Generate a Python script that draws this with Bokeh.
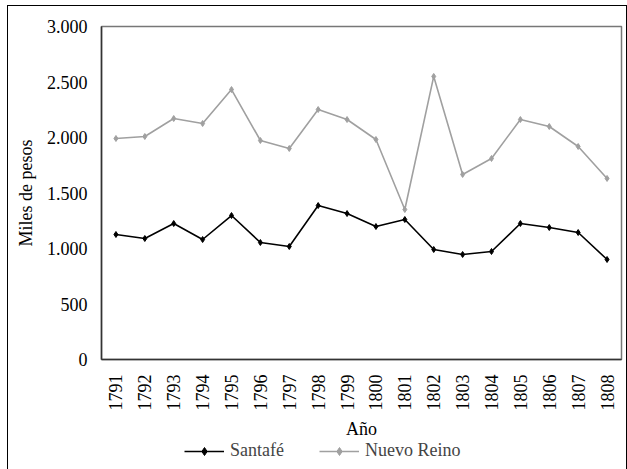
from bokeh.plotting import figure
from bokeh.layouts import column
from bokeh.models import FactorRange, Range1d, CustomJSTickFormatter, Legend, LegendItem
from bokeh.embed import file_html
from bokeh.resources import INLINE
from math import pi

years = [str(y) for y in range(1791, 1809)]
santafe = [1126, 1090, 1225, 1081, 1297, 1054, 1018, 1387, 1315, 1198, 1261, 991, 946, 973, 1225, 1189, 1144, 901]
nuevo_reino = [1991, 2009, 2171, 2126, 2432, 1973, 1901, 2252, 2162, 1982, 1351, 2550, 1667, 1811, 2162, 2099, 1919, 1631]
y_ticks = [0, 500, 1000, 1500, 2000, 2500, 3000]

FONT = "Liberation Serif"
GRAY = "#a0a0a0"

p = figure(width=618, height=435, x_range=FactorRange(*years), y_range=Range1d(0, 3000),
           output_backend="svg", toolbar_location=None,
           min_border_left=93, min_border_right=5, min_border_top=20, min_border_bottom=82)
p.xgrid.visible = False
p.ygrid.visible = False
p.outline_line_color = "#777777"
p.outline_line_width = 1.5

p.line(years, santafe, line_color="black", line_width=1.6)
p.scatter(years, santafe, marker="diamond", size=6, color="black")
p.line(years, nuevo_reino, line_color=GRAY, line_width=1.6)
p.scatter(years, nuevo_reino, marker="diamond", size=6, color=GRAY)

p.yaxis.ticker = y_ticks
p.yaxis.formatter = CustomJSTickFormatter(code="return Math.round(tick).toString().replace(/\\B(?=(\\d{3})+(?!\\d))/g, '.');")
for ax in (p.xaxis[0], p.yaxis[0]):
    ax.major_tick_line_color = None
    ax.minor_tick_line_color = None
    ax.axis_line_color = "#333333"
    ax.axis_line_width = 1.5
    ax.major_label_text_font = FONT
    ax.major_label_text_font_size = "18px"
    ax.major_label_text_color = "black"
    ax.axis_label_text_font = FONT
    ax.axis_label_text_font_size = "18px"
    ax.axis_label_text_font_style = "normal"
    ax.axis_label_text_color = "black"

p.xaxis.major_label_orientation = pi / 2
p.xaxis.axis_label = "Año"
p.xaxis.axis_label_standoff = 5
p.xaxis.major_label_standoff = 9
p.yaxis.axis_label = "Miles de pesos"
p.yaxis.axis_label_standoff = 8
p.yaxis.major_label_standoff = 8
p.x_range.range_padding = 0
p.x_range.group_padding = 0

# legend strip below the chart (series drawn off-screen, only the legend shows)
lg = figure(width=618, height=28, x_range=FactorRange(*years), y_range=Range1d(-2, -1),
            output_backend="svg", toolbar_location=None,
            x_axis_type=None, y_axis_type=None,
            min_border_left=0, min_border_right=0, min_border_top=0, min_border_bottom=0)
lg.xgrid.visible = False
lg.ygrid.visible = False
lg.outline_line_color = None
a1 = lg.line(years, santafe, line_color="black", line_width=1.6)
b1 = lg.scatter(years, santafe, marker="diamond", size=5, color="black")
a2 = lg.line(years, nuevo_reino, line_color=GRAY, line_width=1.6)
b2 = lg.scatter(years, nuevo_reino, marker="diamond", size=5, color=GRAY)
legend = Legend(items=[LegendItem(label="Santafé", renderers=[a1, b1]),
                       LegendItem(label="Nuevo Reino", renderers=[a2, b2])],
                orientation="horizontal", location=(83, 8),
                border_line_color=None, background_fill_alpha=0,
                label_text_font=FONT, label_text_font_size="18px",
                glyph_width=40, glyph_height=20, spacing=35, padding=0, margin=0,
                label_standoff=6)
lg.add_layout(legend, "center")

layout = column(p, lg, spacing=0)
layout.styles = {"border": "1px solid black", "margin-left": "7px", "margin-top": "5px"}

open("out.html", "w").write(file_html(layout, INLINE))
